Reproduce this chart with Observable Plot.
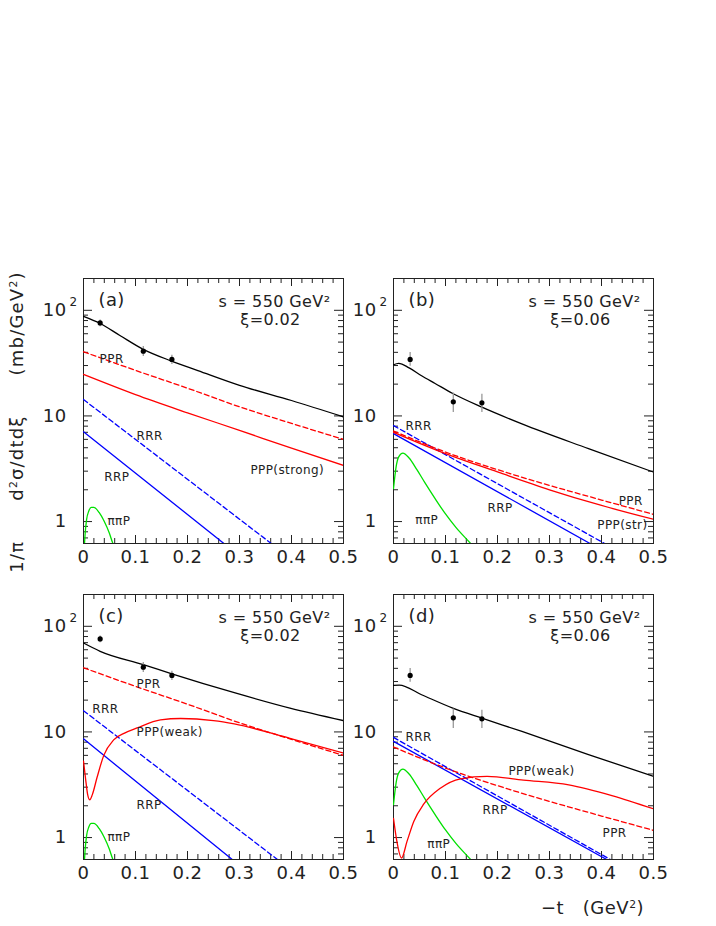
<!DOCTYPE html>
<html><head><meta charset="utf-8">
<script src="https://cdn.jsdelivr.net/npm/d3@7"></script>
<script src="https://cdn.jsdelivr.net/npm/@observablehq/plot@0.6"></script>
<style>
body{margin:0;background:#fff;}
#fig{position:relative;width:716px;height:926px;font-family:"DejaVu Sans";color:#222;overflow:hidden;}
.p{position:absolute;}
sup{font-size:0.6em;vertical-align:0.6em;line-height:0;}
.gap{display:inline-block;width:40px;}
#ytitle{position:absolute;width:340px;height:24px;left:-152px;top:410px;transform:rotate(-90deg);text-align:center;white-space:nowrap;font-size:18px;letter-spacing:1.2px;}
#xtitle{position:absolute;left:541px;top:897px;white-space:nowrap;font-size:18px;letter-spacing:0.5px;}
</style></head><body><div id="fig">
<div id="ytitle">1/π<span class="gap"></span>d<sup>2</sup>σ/dtdξ<span class="gap"></span>(mb/GeV<sup>2</sup>)</div>
<div id="xtitle">−t&nbsp;&nbsp;&nbsp;(GeV<sup>2</sup>)</div>
</div>
<script>
// ---- axis ticks ----
const xMajor = [0, 0.1, 0.2, 0.3, 0.4, 0.5];
const xMinor = [0.02,0.04,0.06,0.08,0.12,0.14,0.16,0.18,0.22,0.24,0.26,0.28,0.32,0.34,0.36,0.38,0.42,0.44,0.46,0.48];
const yMajor = [1, 10, 100];
const yMinor = [0.7,0.8,0.9,2,3,4,5,6,7,8,9,20,30,40,50,60,70,80,90];

// ---- data points ----
const tPts = [0.032, 0.115, 0.17];
const ptsAC = [76, 41, 34.3];
const loAC = [70, 36.5, 30.7];
const hiAC = [81, 45.5, 37.5];
const ptsBD = [34.3, 13.6, 13.3];
const loBD = [29.6, 10.8, 10.8];
const hiBD = [39.8, 16.5, 16.0];

// ---- panel (a) ----
const tTotA = [0, 0.032, 0.07, 0.115, 0.169, 0.22, 0.3, 0.4, 0.5];
const totA  = [87.5, 75, 57.8, 42.7, 33.1, 26.9, 19.5, 14.0, 9.8];
const tPprAC = [0, 0.1, 0.2, 0.3, 0.4, 0.5];
const pprAC  = [40.5, 27, 18.3, 12.2, 8.5, 6.0];
const tPppA = [0, 0.1, 0.2, 0.3, 0.4, 0.5];
const pppA  = [24.7, 15.9, 10.7, 7.3, 4.95, 3.4];
const tRrrA = [0, 0.361];
const rrrA  = [14.3, 0.62];
const tRrpA = [0, 0.27];
const rrpA  = [7.1, 0.62];
const tPiAC = [0, 0.003, 0.006, 0.01, 0.015, 0.02, 0.03, 0.04, 0.05, 0.056, 0.062];
const piAC  = [0.4, 0.75, 1.05, 1.25, 1.36, 1.36, 1.22, 1.0, 0.77, 0.63, 0.55];

// ---- panel (b) ----
const tTotB = [0, 0.01, 0.03, 0.054, 0.08, 0.114, 0.17, 0.247, 0.375, 0.5];
const totB  = [30.5, 31.5, 28.5, 24.0, 20.3, 16.3, 12.1, 8.4, 4.9, 2.94];
const tPprBD = [0, 0.1, 0.2, 0.3, 0.4, 0.5];
const pprBD  = [7.2, 4.55, 3.1, 2.2, 1.6, 1.17];
const tPppB = [0, 0.1, 0.2, 0.3, 0.4, 0.5];
const pppB  = [7.0, 4.4, 2.95, 2.0, 1.42, 1.05];
const tRrrB = [0, 0.406];
const rrrB  = [8.1, 0.62];
const tRrpB = [0, 0.378];
const rrpB  = [6.8, 0.62];
const tPiBD = [0, 0.005, 0.01, 0.018, 0.03, 0.045, 0.06, 0.08, 0.1, 0.12, 0.147, 0.155];
const piBD  = [2.05, 3.3, 4.1, 4.45, 4.0, 3.1, 2.35, 1.65, 1.18, 0.88, 0.63, 0.57];

// ---- panel (c) ----
const tTotC = [0, 0.032, 0.115, 0.17, 0.29, 0.397, 0.5];
const totC  = [69.5, 58, 43.4, 35.5, 23.5, 16.8, 12.8];
const tPppC = [0, 0.004, 0.008, 0.012, 0.017, 0.026, 0.039, 0.058, 0.08, 0.103, 0.148, 0.187, 0.25, 0.29, 0.397, 0.5];
const pppC  = [5.3, 3.6, 2.55, 2.28, 2.55, 3.7, 6.0, 8.4, 9.8, 10.9, 13.0, 13.4, 12.8, 11.9, 8.7, 6.3];
const tRrrC = [0, 0.373];
const rrrC  = [15.9, 0.62];
const tRrpC = [0, 0.286];
const rrpC  = [8.6, 0.62];

// ---- panel (d) ----
const tTotD = [0, 0.011, 0.054, 0.114, 0.17, 0.247, 0.375, 0.5];
const totD  = [27.6, 27.8, 22.5, 16.8, 13.5, 10.1, 6.1, 3.8];
const tPppD = [0, 0.006, 0.0154, 0.026, 0.039, 0.058, 0.09, 0.129, 0.18, 0.25, 0.337, 0.42, 0.5];
const pppD  = [1.52, 0.95, 0.64, 0.92, 1.42, 2.07, 2.93, 3.6, 3.8, 3.5, 3.16, 2.5, 1.87];
const tRrrD = [0, 0.417];
const rrrD  = [8.87, 0.62];
const tRrpD = [0, 0.41];
const rrpD  = [8.13, 0.62];

// ---- curve labels (text, t, value) ----
const labA = [["PPR",0.031,34.6],["RRR",0.102,6.45],["RRP",0.040,2.63],["PPP(strong)",0.321,3.04],["ππP",0.046,1.02]];
const labB = [["RRR",0.023,7.94],["PPR",0.433,1.55],["PPP(str)",0.392,0.917],["RRP",0.181,1.33],["ππP",0.042,1.04]];
const labC = [["PPR",0.102,28.1],["RRR",0.017,16.3],["PPP(weak)",0.102,9.87],["RRP",0.102,2.01],["ππP",0.046,1.02]];
const labD = [["RRR",0.023,8.85],["PPP(weak)",0.221,4.22],["RRP",0.171,1.80],["PPR",0.402,1.11],["ππP",0.065,0.859]];

const S = (ts, vs) => ts.map((t, i) => ({t, v: vs[i]}));
const P = (vs, lo, hi) => tPts.map((t, i) => ({t, v: vs[i], lo: lo[i], hi: hi[i]}));

const panels = [
  {tag:"(a)", xi:"ξ=0.02", left:0, top:260, tot:S(tTotA,totA), ppr:S(tPprAC,pprAC), ppp:S(tPppA,pppA), rrr:S(tRrrA,rrrA), rrp:S(tRrpA,rrpA), pi:S(tPiAC,piAC), pts:P(ptsAC,loAC,hiAC), lab:labA},
  {tag:"(b)", xi:"ξ=0.06", left:310, top:260, tot:S(tTotB,totB), ppr:S(tPprBD,pprBD), ppp:S(tPppB,pppB), rrr:S(tRrrB,rrrB), rrp:S(tRrpB,rrpB), pi:S(tPiBD,piBD), pts:P(ptsBD,loBD,hiBD), lab:labB},
  {tag:"(c)", xi:"ξ=0.02", left:0, top:576, tot:S(tTotC,totC), ppr:S(tPprAC,pprAC), ppp:S(tPppC,pppC), rrr:S(tRrrC,rrrC), rrp:S(tRrpC,rrpC), pi:S(tPiAC,piAC), pts:P(ptsAC,loAC,hiAC), lab:labC},
  {tag:"(d)", xi:"ξ=0.06", left:310, top:576, tot:S(tTotD,totD), ppr:S(tPprBD,pprBD), ppp:S(tPppD,pppD), rrr:S(tRrrD,rrrD), rrp:S(tRrpD,rrpD), pi:S(tPiBD,piBD), pts:P(ptsBD,loBD,hiBD), lab:labD}
];

const FW = 260, FH = 265;
const fig = document.getElementById("fig");
const ink = "#222";
const lineOpts = {x:"t", y:"v", curve:"monotone-x", strokeWidth:1.3, clip:true};

for (const p of panels) {
  const chart = Plot.plot({
    width: 83 + FW + 10, height: 18 + FH + 30,
    marginLeft: 83, marginRight: 10, marginTop: 18, marginBottom: 30,
    x: {domain: [0, 0.5], axis: null},
    y: {type: "log", domain: [0.62, 200], axis: null},
    style: {fontFamily: "'DejaVu Sans'", color: ink, background: "transparent", overflow: "visible", letterSpacing: "0.4px"},
    marks: [
      // ticks (inward, all four sides)
      Plot.ruleX(xMajor, {x: d => d, insetTop: FH - 8, stroke: ink}),
      Plot.ruleX(xMajor, {x: d => d, insetBottom: FH - 8, stroke: ink}),
      Plot.ruleX(xMinor, {x: d => d, insetTop: FH - 5, stroke: ink}),
      Plot.ruleX(xMinor, {x: d => d, insetBottom: FH - 5, stroke: ink}),
      Plot.ruleY(yMajor, {y: d => d, insetRight: FW - 9, stroke: ink}),
      Plot.ruleY(yMajor, {y: d => d, insetLeft: FW - 9, stroke: ink}),
      Plot.ruleY(yMinor, {y: d => d, insetRight: FW - 5, stroke: ink}),
      Plot.ruleY(yMinor, {y: d => d, insetLeft: FW - 5, stroke: ink}),
      Plot.frame({stroke: ink, strokeWidth: 1}),
      // tick labels
      Plot.text(xMajor, {x: d => d, frameAnchor: "bottom", dy: 14, lineAnchor: "middle", text: d => d === 0 ? "0" : d.toFixed(1), fontSize: 18, fill: ink}),
      Plot.text(yMajor, {y: d => d, frameAnchor: "left", dx: -17, textAnchor: "end", lineAnchor: "middle", text: d => d === 100 ? "10" : String(d), fontSize: 18, fill: ink}),
      Plot.text([100], {y: d => d, frameAnchor: "left", dx: -14, dy: -8, textAnchor: "start", lineAnchor: "middle", text: () => "2", fontSize: 12, fill: ink}),
      // curves
      Plot.line(p.pi, {...lineOpts, stroke: "#00e000"}),
      Plot.line(p.rrp, {...lineOpts, stroke: "#0000ff"}),
      Plot.line(p.rrr, {...lineOpts, stroke: "#0000ff", strokeDasharray: "5,3"}),
      Plot.line(p.ppp, {...lineOpts, stroke: "#ff0000"}),
      Plot.line(p.ppr, {...lineOpts, stroke: "#ff0000", strokeDasharray: "5,3"}),
      Plot.line(p.tot, {...lineOpts, stroke: "#000"}),
      // data
      Plot.ruleX(p.pts, {x: "t", y1: "lo", y2: "hi", stroke: "#999", strokeWidth: 1.3}),
      Plot.dot(p.pts, {x: "t", y: "v", r: 2.6, fill: "#000"}),
      // labels
      Plot.text(p.lab, {x: d => d[1], y: d => d[2], text: d => d[0], textAnchor: "start", lineAnchor: "middle", fontSize: 12, fill: ink}),
      Plot.text([p.tag], {frameAnchor: "top-left", dx: 15, dy: 22, text: d => d, textAnchor: "start", lineAnchor: "middle", fontSize: 18, fill: ink}),
      Plot.text(["s = 550 GeV²"], {frameAnchor: "top-right", dx: -13, dy: 23, text: d => d, textAnchor: "end", lineAnchor: "middle", fontSize: 16, fill: ink}),
      Plot.text([p.xi], {frameAnchor: "top-right", dx: -73, dy: 41, text: d => d, textAnchor: "middle", lineAnchor: "middle", fontSize: 16, fill: ink})
    ]
  });
  chart.classList.add("p");
  chart.style.left = p.left + "px";
  chart.style.top = p.top + "px";
  fig.appendChild(chart);
}
</script></body></html>
